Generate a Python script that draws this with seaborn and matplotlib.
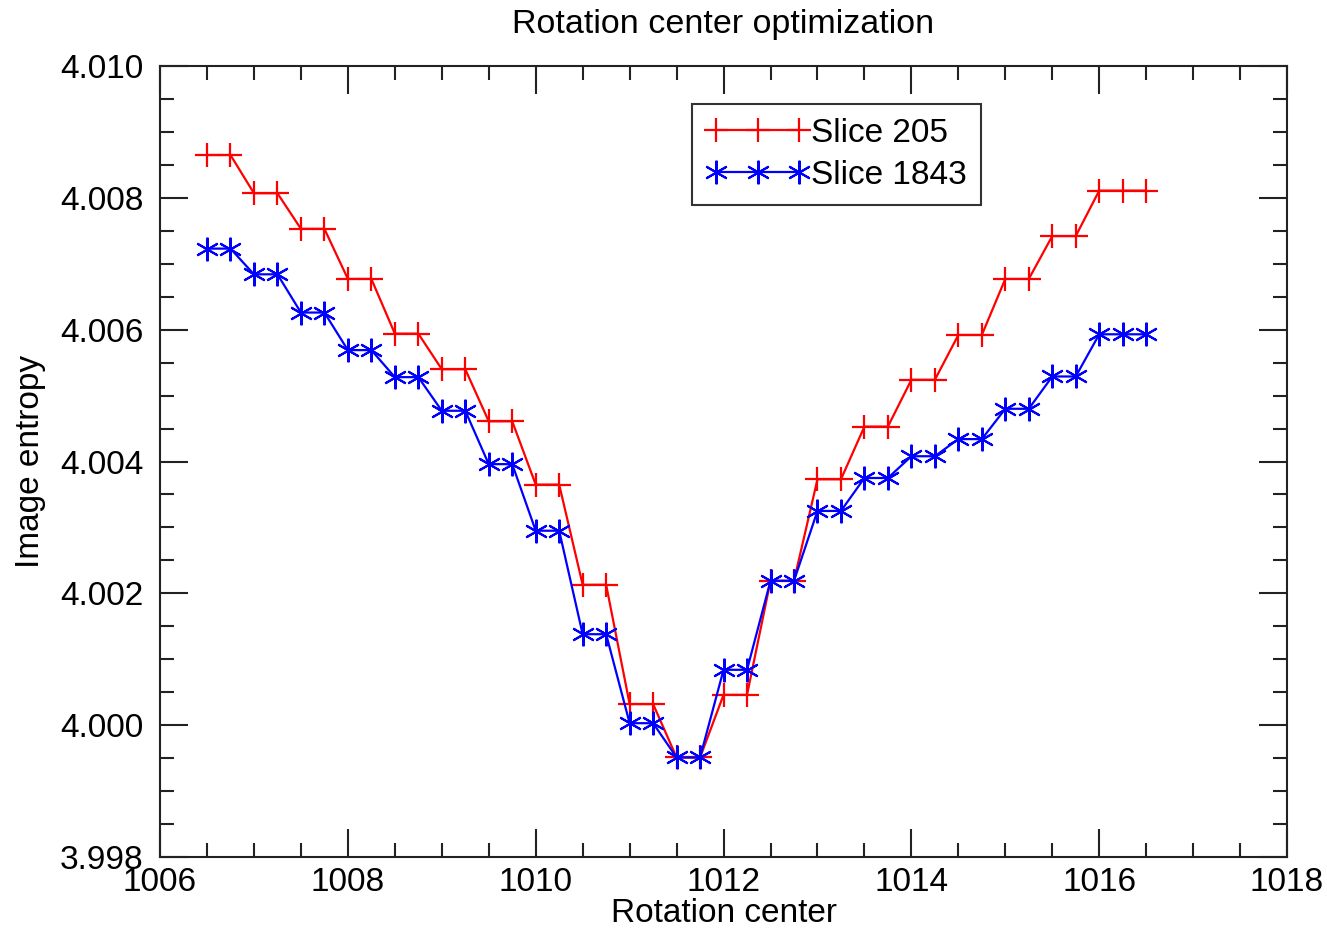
import numpy as np
import pandas as pd
import seaborn as sns
import matplotlib.pyplot as plt
from matplotlib.ticker import MultipleLocator, FormatStrFormatter

# Data
centers = [1006.5, 1006.75, 1007.0, 1007.25, 1007.5, 1007.75, 1008.0, 1008.25,
           1008.5, 1008.75, 1009.0, 1009.25, 1009.5, 1009.75, 1010.0, 1010.25,
           1010.5, 1010.75, 1011.0, 1011.25, 1011.5, 1011.75, 1012.0, 1012.25,
           1012.5, 1012.75, 1013.0, 1013.25, 1013.5, 1013.75, 1014.0, 1014.25,
           1014.5, 1014.75, 1015.0, 1015.25, 1015.5, 1015.75, 1016.0, 1016.25,
           1016.5]
slice_205 = [4.00865, 4.00865, 4.00807, 4.00807, 4.00753, 4.00753, 4.00677, 4.00677,
             4.00594, 4.00594, 4.00540, 4.00540, 4.00461, 4.00461, 4.00365, 4.00365,
             4.00213, 4.00213, 4.00032, 4.00032, 3.99951, 3.99951, 4.00046, 4.00046,
             4.00219, 4.00219, 4.00373, 4.00373, 4.00453, 4.00453, 4.00524, 4.00524,
             4.00592, 4.00592, 4.00677, 4.00677, 4.00742, 4.00742, 4.00811, 4.00811,
             4.00811]
slice_1843 = [4.00723, 4.00723, 4.00684, 4.00684, 4.00626, 4.00626, 4.00569, 4.00569,
              4.00528, 4.00528, 4.00477, 4.00477, 4.00396, 4.00396, 4.00295, 4.00295,
              4.00138, 4.00138, 4.00003, 4.00003, 3.99951, 3.99951, 4.00084, 4.00084,
              4.00219, 4.00219, 4.00325, 4.00325, 4.00375, 4.00375, 4.00408, 4.00408,
              4.00434, 4.00434, 4.00480, 4.00480, 4.00529, 4.00529, 4.00593, 4.00593,
              4.00593]

df = pd.DataFrame({'center': centers, 's205': slice_205, 's1843': slice_1843})

sns.set_style('ticks', {'text.color': 'black', 'axes.labelcolor': 'black',
                        'xtick.color': 'black', 'ytick.color': 'black'})
plt.rcParams['font.family'] = ['Liberation Sans', 'DejaVu Sans']

fig = plt.figure(figsize=(13.27, 9.3), dpi=100)
ax = fig.add_axes([0.1206, 0.0785, 0.8493, 0.8505])

# red plus markers, blue six-armed asterisks like the IDL original
sns.lineplot(data=df, x='center', y='s205', ax=ax, color='#ff0000', lw=1.6,
             marker='+', markersize=17, markeredgewidth=1.6,
             markeredgecolor='#ff0000', label='Slice 205')
sns.lineplot(data=df, x='center', y='s1843', ax=ax, color='#0000ff', lw=1.6,
             marker=(6, 2, 0), markersize=17, markeredgewidth=1.5,
             markeredgecolor='#0000ff', label='Slice 1843')

ax.set_xlim(1006, 1018)
ax.set_ylim(3.998, 4.010)
ax.xaxis.set_major_locator(MultipleLocator(2))
ax.xaxis.set_minor_locator(MultipleLocator(0.5))
ax.yaxis.set_major_locator(MultipleLocator(0.002))
ax.yaxis.set_minor_locator(MultipleLocator(0.0005))
ax.yaxis.set_major_formatter(FormatStrFormatter('%.3f'))
ax.tick_params(which='both', direction='in', top=True, right=True, width=1.5,
               colors='#222222', labelcolor='black', labelsize=24)
ax.tick_params(which='major', length=20)
ax.tick_params(which='minor', length=10)
ax.tick_params(axis='x', which='major', pad=7)
ax.tick_params(axis='y', which='major', pad=12)
for s in ax.spines.values():
    s.set_linewidth(1.5)
    s.set_color('#222222')

ax.set_title('Rotation center optimization', fontsize=24.5, pad=24, color='black')
ax.set_xlabel('Rotation center', fontsize=24, labelpad=0)
ax.set_ylabel('Image entropy', fontsize=24, labelpad=10)

leg = ax.legend(loc='upper left', bbox_to_anchor=(0.472, 0.952), borderaxespad=0,
                numpoints=3, handlelength=3.1, handletextpad=0.05, borderpad=0.42,
                labelspacing=0.32, fontsize=24, frameon=True, fancybox=False)
leg.get_frame().set_edgecolor('black')
leg.get_frame().set_linewidth(1.5)
for t in leg.get_texts():
    t.set_color('black')

fig.savefig('out.png', dpi=100)
